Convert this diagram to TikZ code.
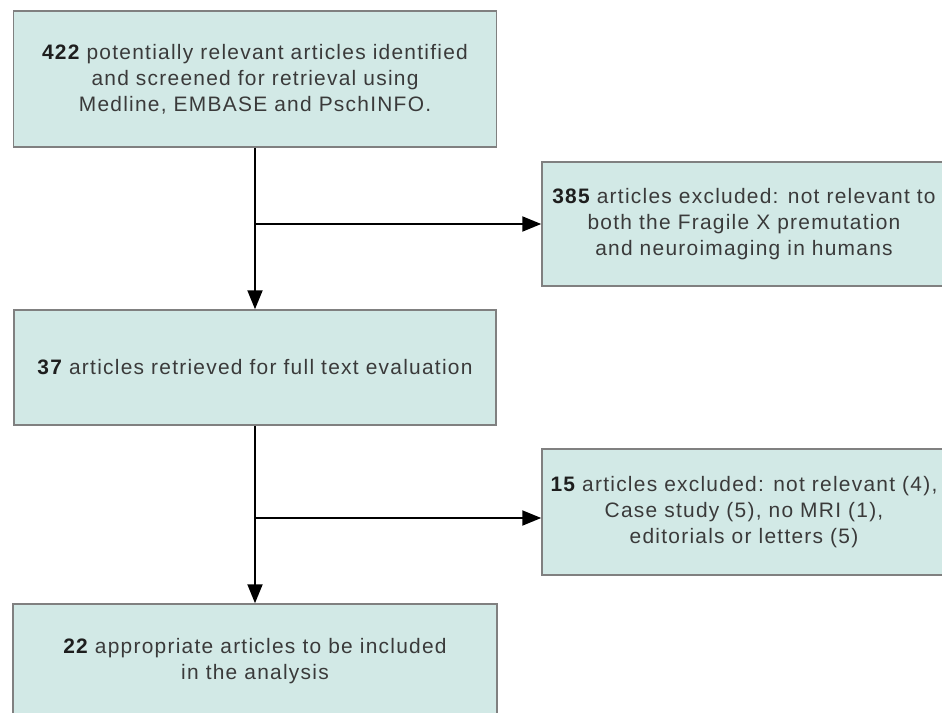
\documentclass[tikz,border=0pt]{standalone}
\usepackage{fontspec}
\setmainfont[LetterSpace=6]{Liberation Sans}
\usetikzlibrary{arrows.meta}
\definecolor{boxfill}{HTML}{D2E9E6}
\definecolor{boxline}{HTML}{808080}
\definecolor{txt}{HTML}{3A3A3A}
\definecolor{numc}{HTML}{1E1E1E}
\newcommand{\num}[1]{{\color{numc}\bfseries #1}}
\begin{document}
\begin{tikzpicture}[x=1bp,y=-1bp,
  box/.style={draw=boxline,line width=1.5bp,fill=boxfill,text=txt,align=center,
    font=\fontsize{21}{26}\selectfont,inner sep=0pt},
  arr/.style={line width=2bp,draw=black,-{Triangle[length=19bp,width=15bp]}}]
\useasboundingbox (0,0) rectangle (942,713);
\clip (0,0) rectangle (942,713);
\node[box,minimum width=483bp,minimum height=136bp] (b1) at (255,79)
  {\num{422} potentially relevant articles identified\\and screened for retrieval using\\Medline, EMBASE and PschINFO.};
\node[box,minimum width=404bp,minimum height=124bp] (b2) at (744,224)
  {\num{385} articles excluded: not relevant to\\both the Fragile X premutation\\and neuroimaging in humans};
\node[box,minimum width=482bp,minimum height=115bp] (b3) at (255,367.5)
  {\num{37} articles retrieved for full text evaluation};
\node[box,minimum width=404bp,minimum height=126bp] (b4) at (744,512)
  {\num{15} articles excluded: not relevant (4),\\Case study (5), no MRI (1),\\editorials or letters (5)};
\node[box,minimum width=484bp,minimum height=114bp] (b5) at (255,661)
  {\num{22} appropriate articles to be included\\in the analysis};
\coordinate (b4in) at ([yshift=-6bp]b4.west);
\draw[arr] (b1.south) -- (b3.north);
\draw[arr] (b1.south |- b2.west) -- (b2.west);
\draw[arr] (b3.south) -- (b5.north);
\draw[arr] (b3.south |- b4in) -- (b4in);
\end{tikzpicture}
\end{document}
